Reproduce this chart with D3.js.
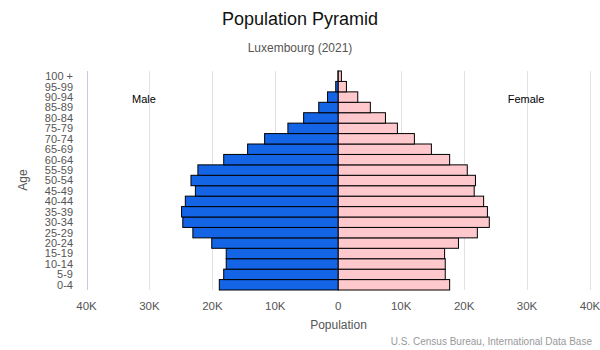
<!DOCTYPE html>
<html>
<head>
<meta charset="utf-8">
<script src="https://cdn.jsdelivr.net/npm/d3@7"></script>
<style>
  html, body { margin: 0; padding: 0; background: #fff; }
  svg { display: block; font-family: "Liberation Sans", Arial, sans-serif; }
</style>
</head>
<body>
<svg id="chart" width="600" height="350"></svg>
<script>
const ageGroups = ["0-4","5-9","10-14","15-19","20-24","25-29","30-34","35-39","40-44","45-49","50-54","55-59","60-64","65-69","70-74","75-79","80-84","85-89","90-94","95-99","100 +"];
const maleValues = [18900, 18200, 17800, 17800, 20100, 23100, 24700, 24900, 24300, 22700, 23400, 22300, 18200, 14400, 11700, 8000, 5500, 3100, 1700, 400, 50];
const femaleValues = [17700, 17000, 17000, 16900, 19100, 22100, 24000, 23700, 23100, 21600, 21800, 20500, 17700, 14800, 12100, 9400, 7500, 5100, 3100, 1300, 500];
const xTicks = [-40000, -30000, -20000, -10000, 0, 10000, 20000, 30000, 40000];
const titleText = "Population Pyramid";
const subtitleText = "Luxembourg (2021)";
const sourceText = "U.S. Census Bureau, International Data Base";

const rows = ageGroups.map((a, i) => ({age: a, male: maleValues[i], female: femaleValues[i]}));

const svg = d3.select("#chart");
const x = d3.scaleLinear().domain([-40000, 40000]).range([86.5, 590]);
const y = d3.scaleBand().domain(ageGroups.slice().reverse()).range([71, 290]).padding(0);

// grid
svg.append("g").selectAll("line").data(xTicks).join("line")
  .attr("x1", d => Math.round(x(d)) + 0.5).attr("x2", d => Math.round(x(d)) + 0.5)
  .attr("y1", 71).attr("y2", 290)
  .attr("stroke", (d, i) => i === 0 ? "#c8cbdc" : "#e2e2e2").attr("stroke-width", 1);

// x tick labels
const fmt = d => d === 0 ? "0" : Math.abs(d / 1000) + "K";
svg.append("g").selectAll("text").data(xTicks).join("text")
  .attr("x", d => x(d)).attr("y", 310)
  .attr("text-anchor", "middle").attr("font-size", 11.5).attr("fill", "#555")
  .text(fmt);

// y labels
svg.append("g").selectAll("text").data(ageGroups).join("text")
  .attr("x", 73).attr("y", d => y(d) + y.bandwidth() / 2)
  .attr("dy", "0.36em")
  .attr("text-anchor", "end").attr("font-size", 11).attr("fill", "#555")
  .text(d => d);

// bars
svg.append("g").selectAll("rect").data(rows).join("rect")
  .attr("x", d => x(-d.male)).attr("width", d => x(0) - x(-d.male))
  .attr("y", d => y(d.age)).attr("height", y.bandwidth())
  .attr("fill", "#1464e6").attr("stroke", "#000").attr("stroke-width", 1);
svg.append("g").selectAll("rect").data(rows).join("rect")
  .attr("x", x(0)).attr("width", d => x(d.female) - x(0))
  .attr("y", d => y(d.age)).attr("height", y.bandwidth())
  .attr("fill", "#ffc8cc").attr("stroke", "#000").attr("stroke-width", 1);

// series labels
svg.append("text").attr("x", 144).attr("y", 103).attr("text-anchor", "middle")
  .attr("font-size", 11).attr("fill", "#000").text("Male");
svg.append("text").attr("x", 526).attr("y", 103).attr("text-anchor", "middle")
  .attr("font-size", 11).attr("fill", "#000").text("Female");

// titles
svg.append("text").attr("x", 300).attr("y", 25).attr("text-anchor", "middle")
  .attr("font-size", 18).attr("fill", "#111").text(titleText);
svg.append("text").attr("x", 300).attr("y", 52).attr("text-anchor", "middle")
  .attr("font-size", 12).attr("fill", "#555").text(subtitleText);

// axis titles
svg.append("text").attr("x", 338.5).attr("y", 329).attr("text-anchor", "middle")
  .attr("font-size", 12).attr("fill", "#555").text("Population");
svg.append("text").attr("transform", "translate(27,180) rotate(-90)")
  .attr("text-anchor", "middle").attr("font-size", 12).attr("fill", "#555").text("Age");

// source
svg.append("text").attr("x", 592).attr("y", 345).attr("text-anchor", "end")
  .attr("font-size", 10).attr("fill", "#999").text(sourceText);
</script>
</body>
</html>
